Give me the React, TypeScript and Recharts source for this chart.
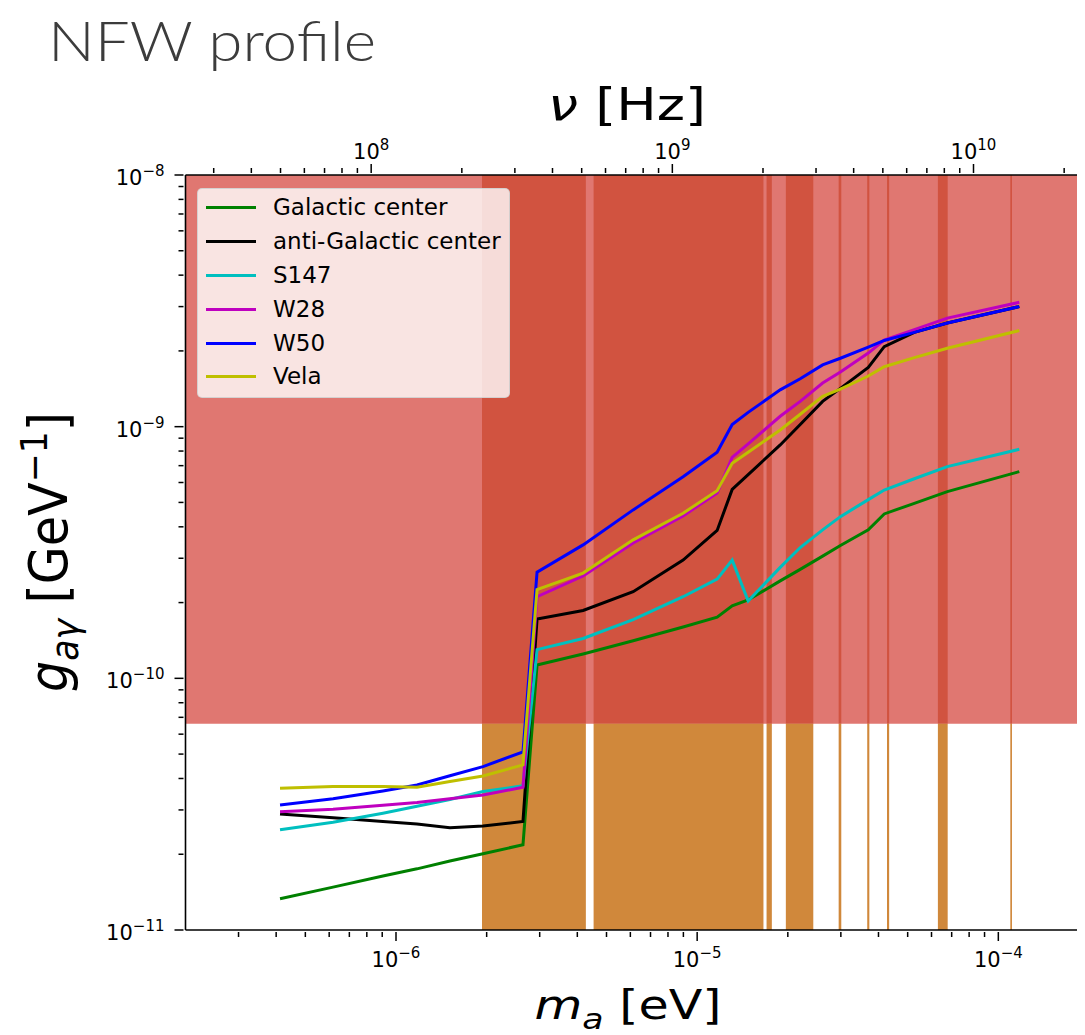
import React from 'react'
import { ComposedChart, Line, XAxis, YAxis, ReferenceArea } from 'recharts'

// axion mass grid [eV]
const massEv = [4.12e-7, 6.18e-7, 9.05e-7, 1.174e-6, 1.51e-6, 1.945e-6, 2.64e-6, 2.94e-6, 4.18e-6, 6.13e-6, 8.98e-6, 1.165e-5, 1.307e-5, 1.477e-5, 1.887e-5, 2.199e-5, 2.61e-5, 2.99e-5, 3.7e-5, 4.18e-5, 5.26e-5, 6.77e-5, 1.174e-4]

// g_ay limits [GeV^-1] per target
const galacticCenter = [1.33e-11, 1.48e-11, 1.64e-11, 1.75e-11, 1.88e-11, 2.01e-11, 2.18e-11, 1.13e-10, 1.25e-10, 1.41e-10, 1.6e-10, 1.75e-10, 1.94e-10, 2.05e-10, 2.44e-10, 2.71e-10, 3.06e-10, 3.37e-10, 3.89e-10, 4.5e-10, 4.96e-10, 5.52e-10, 6.63e-10]
const antiGalactic = [2.89e-11, 2.79e-11, 2.7e-11, 2.64e-11, 2.55e-11, 2.59e-11, 2.7e-11, 1.72e-10, 1.86e-10, 2.21e-10, 2.95e-10, 3.87e-10, 5.63e-10, 6.45e-10, 8.46e-10, 1.02e-9, 1.26e-9, 1.42e-9, 1.72e-9, 2.08e-9, 2.37e-9, 2.58e-9, 3.0e-9]
const s147 = [2.5e-11, 2.68e-11, 2.91e-11, 3.1e-11, 3.3e-11, 3.55e-11, 3.74e-11, 1.3e-10, 1.44e-10, 1.71e-10, 2.11e-10, 2.48e-10, 2.95e-10, 2.03e-10, 2.76e-10, 3.31e-10, 3.89e-10, 4.39e-10, 5.13e-10, 5.6e-10, 6.21e-10, 6.94e-10, 8.13e-10]
const w28 = [2.95e-11, 3.02e-11, 3.13e-11, 3.21e-11, 3.32e-11, 3.44e-11, 3.69e-11, 2.11e-10, 2.55e-10, 3.45e-10, 4.42e-10, 5.45e-10, 7.55e-10, 8.55e-10, 1.1e-9, 1.26e-9, 1.49e-9, 1.65e-9, 1.96e-9, 2.21e-9, 2.43e-9, 2.7e-9, 3.12e-9]
const w50 = [3.14e-11, 3.32e-11, 3.57e-11, 3.77e-11, 4.1e-11, 4.46e-11, 5.1e-11, 2.64e-10, 3.39e-10, 4.67e-10, 6.33e-10, 7.91e-10, 1.02e-9, 1.14e-9, 1.4e-9, 1.55e-9, 1.76e-9, 1.87e-9, 2.07e-9, 2.2e-9, 2.37e-9, 2.58e-9, 3.0e-9]
const vela = [3.66e-11, 3.72e-11, 3.72e-11, 3.69e-11, 3.89e-11, 4.09e-11, 4.53e-11, 2.25e-10, 2.62e-10, 3.55e-10, 4.53e-10, 5.57e-10, 7.15e-10, 7.92e-10, 9.7e-10, 1.12e-9, 1.32e-9, 1.41e-9, 1.59e-9, 1.73e-9, 1.88e-9, 2.05e-9, 2.41e-9]

// existing exclusions: haloscope bands [eV] and the flat limit
const bandLo = [1.93e-6, 4.53e-6, 1.7e-5, 1.97e-5, 2.95e-5, 3.67e-5, 4.27e-5, 6.3e-5, 1.096e-4]
const bandHi = [4.27e-6, 1.66e-5, 1.77e-5, 2.43e-5, 3.01e-5, 3.73e-5, 4.34e-5, 6.79e-5, 1.11e-4]
const gLimit = 6.6e-11

const xMajor = [1e-6, 1e-5, 1e-4]
const nuMajor = [1e8, 1e9, 1e10]
const yMajor = [1e-11, 1e-10, 1e-9, 1e-8]

const xDomain = [2e-7, 1.94e-4]
const yDomain = [1e-11, 1e-8]
const HZ_PER_EV = 1.209e14 // top axis scale as drawn in the figure

const series = [
  { key: 'gc', name: 'Galactic center', color: '#008000', values: galacticCenter },
  { key: 'agc', name: 'anti-Galactic center', color: '#000000', values: antiGalactic },
  { key: 's147', name: 'S147', color: '#00bfbf', values: s147 },
  { key: 'w28', name: 'W28', color: '#bf00bf', values: w28 },
  { key: 'w50', name: 'W50', color: '#0000ff', values: w50 },
  { key: 'vela', name: 'Vela', color: '#bfbf00', values: vela },
]

const rows = massEv.map((m, i) => {
  const r: any = { m }
  series.forEach(s => { r[s.key] = s.values[i] })
  return r
})

// minor ticks 2..9 x decade, kept inside [lo, hi]
const withMinors = (majors: number[], lo: number, hi: number) => {
  const out: number[] = []
  for (let e = Math.floor(Math.log10(lo)); e <= Math.floor(Math.log10(hi)); e++) {
    for (let k = 2; k < 10; k++) {
      const v = k * Math.pow(10, e)
      if (v > lo * 1.001 && v < hi * 0.999) out.push(v)
    }
  }
  majors.forEach(v => { if (v >= lo * 0.999 && v <= hi * 1.001) out.push(v) })
  return out.sort((a, b) => a - b)
}

const isMajor = (v: number) => Math.abs(Math.log10(v) - Math.round(Math.log10(v))) < 1e-6
const expOf = (v: number) => {
  const e = Math.round(Math.log10(v))
  return e < 0 ? '\u2212' + Math.abs(e) : String(e)
}

const xTicks = withMinors(xMajor, xDomain[0], xDomain[1])
const nuTicks = withMinors(nuMajor, xDomain[0] * HZ_PER_EV, xDomain[1] * HZ_PER_EV).map(v => v / HZ_PER_EV)
const yTicks = withMinors(yMajor, yDomain[0], yDomain[1])

const FONT = '"DejaVu Sans", sans-serif'

const Pow10 = ({ x, y, v, anchor }: any) => (
  <text x={x} y={y} textAnchor={anchor} fontFamily={FONT} fontSize={21} fill="#000">
    10<tspan dy={-9} fontSize={15}>{expOf(v)}</tspan>
  </text>
)

const BottomTick = ({ x, y, payload }: any) => {
  const major = isMajor(payload.value)
  return (
    <g>
      <line x1={x} x2={x} y1={y} y2={y + (major ? 9 : 5)} stroke="#000" strokeWidth={1.5} />
      {major && <Pow10 x={x} y={y + 35} v={payload.value} anchor="middle" />}
    </g>
  )
}

const TopTick = ({ x, y, payload }: any) => {
  const nu = payload.value * HZ_PER_EV
  const major = isMajor(nu)
  return (
    <g>
      <line x1={x} x2={x} y1={y} y2={y - (major ? 9 : 5)} stroke="#000" strokeWidth={1.5} />
      {major && <Pow10 x={x} y={y - 14} v={nu} anchor="middle" />}
    </g>
  )
}

const LeftTick = ({ x, y, payload }: any) => {
  const major = isMajor(payload.value)
  return (
    <g>
      <line x1={x} x2={x - (major ? 9 : 5)} y1={y} y2={y} stroke="#000" strokeWidth={1.5} />
      {major && <Pow10 x={x - 19} y={y + 10} v={payload.value} anchor="end" />}
    </g>
  )
}

const LegendBox = () => (
  <div style={{
    position: 'absolute', left: 189, top: 180, width: 313, height: 210, boxSizing: 'border-box',
    background: 'rgba(255,255,255,0.8)', border: '1px solid rgba(204,204,204,0.8)', borderRadius: 5,
    paddingTop: 2, fontFamily: FONT,
  }}>
    {series.map(s => (
      <div key={s.key} style={{ display: 'flex', alignItems: 'center', height: 33.8 }}>
        <div style={{ width: 50, height: 3, background: s.color, marginLeft: 8, marginRight: 17 }} />
        <span style={{ fontSize: 23, lineHeight: 1, color: '#000' }}>{s.name}</span>
      </div>
    ))}
  </div>
)

const W = 1077
const H = 1027

const App: React.FC = () => {
  const axisLine = { stroke: '#000', strokeWidth: 1.6 }
  return (
    <div style={{ position: 'relative', width: W, height: H }}>
      <ComposedChart width={W} height={H} data={rows} margin={{ top: 0, right: 0, bottom: 0, left: 0 }}>
        <XAxis dataKey="m" type="number" scale="log" domain={xDomain} allowDataOverflow
          ticks={xTicks} interval={0} tick={<BottomTick />}
          tickLine={false} tickSize={0} height={105} axisLine={axisLine} />
        <XAxis xAxisId="top" dataKey="m" orientation="top" type="number" scale="log" domain={xDomain} allowDataOverflow
          ticks={nuTicks} interval={0} tick={<TopTick />}
          tickLine={false} tickSize={0} height={167} axisLine={axisLine} />
        <YAxis type="number" scale="log" domain={yDomain} allowDataOverflow
          ticks={yTicks} interval={0} tick={<LeftTick />}
          tickLine={false} tickSize={0} width={177.5} axisLine={axisLine} />

        <ReferenceArea x1={xDomain[0]} x2={xDomain[1]} y1={gLimit} y2={yDomain[1]}
          fill="#e07771" fillOpacity={1} stroke="none" />
        {bandLo.map((lo, i) => (
          <ReferenceArea key={'r' + i} x1={lo} x2={bandHi[i]} y1={gLimit} y2={yDomain[1]}
            fill="#d15340" fillOpacity={1} stroke="none" />
        ))}
        {bandLo.map((lo, i) => (
          <ReferenceArea key={'o' + i} x1={lo} x2={bandHi[i]} y1={yDomain[0]} y2={gLimit}
            fill="#d0883b" fillOpacity={1} stroke="none" />
        ))}

        {series.map(s => (
          <Line key={s.key} dataKey={s.key} name={s.name} stroke={s.color} strokeWidth={3}
            type="linear" dot={false} isAnimationActive={false} />
        ))}
      </ComposedChart>

      {/* overlay in page coordinates (body margin is 8px) */}
      <svg width={1085} height={1035} style={{ position: 'absolute', left: -8, top: -8, pointerEvents: 'none' }}>
        <text x={48} y={61} fontFamily="Lato, sans-serif" fontWeight={300} fontSize={56} fill="#3c3c3c"
          textLength={328} lengthAdjust="spacingAndGlyphs">NFW profile</text>
        <text x={627} y={120} textAnchor="middle" fontFamily={FONT} fontSize={44} fill="#000"
          textLength={158} lengthAdjust="spacingAndGlyphs">
          <tspan fontStyle="italic">{'\u03bd'}</tspan> [Hz]
        </text>
        <text x={628} y={1019} textAnchor="middle" fontFamily={FONT} fontSize={41} fill="#000"
          textLength={187} lengthAdjust="spacingAndGlyphs">
          <tspan fontStyle="italic">m</tspan><tspan fontStyle="italic" fontSize={29} dy={10}>a</tspan><tspan dy={-10}> [eV]</tspan>
        </text>
        <text transform="translate(67,552) rotate(-90) scale(1,1.2)" textAnchor="middle" fontFamily={FONT} fontSize={44} fill="#000"
          textLength={280} lengthAdjust="spacingAndGlyphs">
          <tspan fontStyle="italic">g</tspan><tspan fontStyle="italic" fontSize={31} dy={9}>{'a\u03b3'}</tspan><tspan dy={-9}> [GeV</tspan><tspan fontSize={31} dy={-17}>{'\u22121'}</tspan><tspan dy={17}>]</tspan>
        </text>
      </svg>

      <LegendBox />
    </div>
  )
}

export default App
